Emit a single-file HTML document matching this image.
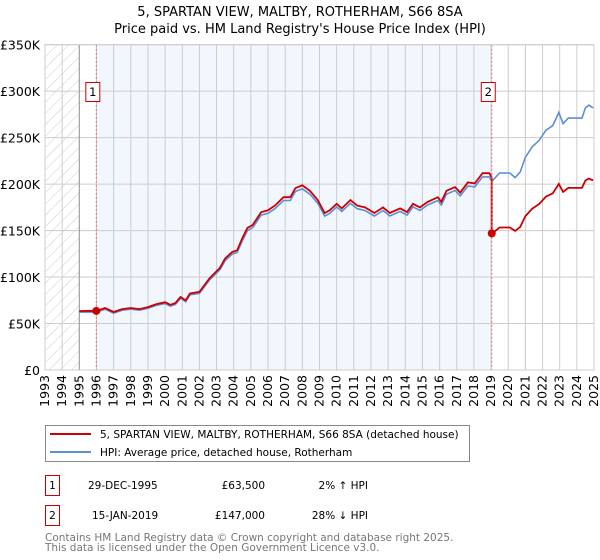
<!DOCTYPE html>
<html><head><meta charset="utf-8"><style>
body{margin:0;background:#fff;font-family:"DejaVu Sans","Liberation Sans",sans-serif;}
#wrap{position:relative;width:600px;height:560px;overflow:hidden;}
svg text{font-family:"DejaVu Sans","Liberation Sans",sans-serif;}
</style></head><body>
<div id="wrap">
<svg id="chart" width="600" height="560">
<defs><pattern id="hatch" patternUnits="userSpaceOnUse" width="8" height="8" patternTransform="rotate(45)"><line x1="0" y1="0" x2="0" y2="8" stroke="#ccc" stroke-width="1"/></pattern></defs>
<text x="300" y="16" text-anchor="middle" font-size="13">5, SPARTAN VIEW, MALTBY, ROTHERHAM, S66 8SA</text>
<text x="300" y="33" text-anchor="middle" font-size="13">Price paid vs. HM Land Registry's House Price Index (HPI)</text>
<g id="plot"></g>
</svg>
<svg width="600" height="560" style="position:absolute;left:0;top:0">
<rect x="45.5" y="425.5" width="424" height="36" fill="#fff" stroke="#888"/>
<line x1="50" y1="434" x2="91" y2="434" stroke="#cc0000" stroke-width="2"/>
<text x="100" y="438" font-size="10.5">5, SPARTAN VIEW, MALTBY, ROTHERHAM, S66 8SA (detached house)</text>
<line x1="50" y1="452" x2="91" y2="452" stroke="#5b8fd4" stroke-width="2"/>
<text x="100" y="456" font-size="10.5">HPI: Average price, detached house, Rotherham</text>
<rect x="45.5" y="475.5" width="14" height="20" fill="#fff" stroke="#cc0000"/>
<text x="52.5" y="489" text-anchor="middle" font-size="10.5">1</text>
<text x="88" y="489" font-size="10.5">29-DEC-1995</text>
<text x="265" y="489" text-anchor="end" font-size="10.5">£63,500</text>
<text x="368" y="489" text-anchor="end" font-size="10.5">2% ↑ HPI</text>
<rect x="45.5" y="505.5" width="14" height="20" fill="#fff" stroke="#cc0000"/>
<text x="52.5" y="519" text-anchor="middle" font-size="10.5">2</text>
<text x="92" y="519" font-size="10.5">15-JAN-2019</text>
<text x="265" y="519" text-anchor="end" font-size="10.5">£147,000</text>
<text x="368" y="519" text-anchor="end" font-size="10.5">28% ↓ HPI</text>
<text x="45" y="541" font-size="10.5" fill="#777">Contains HM Land Registry data © Crown copyright and database right 2025.</text>
<text x="45" y="551" font-size="10.5" fill="#777">This data is licensed under the Open Government Licence v3.0.</text>
</svg>
</div>
<script>
const hpiYears=[1995.0,1995.5,1996.0,1996.5,1997.0,1997.5,1998.0,1998.5,1999.0,1999.5,2000.0,2000.3,2000.6,2000.9,2001.2,2001.45,2002.0,2002.6,2003.2,2003.5,2003.9,2004.2,2004.5,2004.8,2005.1,2005.6,2006.0,2006.4,2006.9,2007.3,2007.6,2008.0,2008.45,2008.9,2009.3,2009.6,2010.0,2010.3,2010.8,2011.2,2011.65,2012.2,2012.7,2013.1,2013.7,2014.1,2014.45,2014.85,2015.3,2015.9,2016.1,2016.4,2016.9,2017.2,2017.65,2018.05,2018.5,2018.9,2019.05,2019.5,2020.1,2020.4,2020.7,2021.0,2021.4,2021.8,2022.2,2022.6,2022.95,2023.2,2023.5,2023.8,2024.3,2024.5,2024.7,2024.95];
const hpiValues=[62.2,62.5,62.3,65.4,61.2,64.3,65.4,64.3,66.4,69.6,71.6,68.8,70.6,77.2,73.5,80.9,82.4,97,108,117.6,124.5,126.5,139,150,153,166.7,168.6,173.5,182.4,182.4,192,195,189,179.4,165.7,168.6,175.5,170.6,179.4,173.5,171.6,165.7,171.6,165.7,170.6,166.7,175.5,171.6,177.5,182.4,177.5,189.2,193.1,187.3,198,197,207.8,207.8,203,212,212,207,213,229,240,247,258,263,277,265,271,271,271,282,285,282];
const saleYears=[1995.99,2019.04];
const salePrices=[63.5,147];
const saleLabels=["1","2"];
const yTicks=[0,50,100,150,200,250,300,350];
const yTickLabels=["£0","£50K","£100K","£150K","£200K","£250K","£300K","£350K"];
const xTicks=[1993,1994,1995,1996,1997,1998,1999,2000,2001,2002,2003,2004,2005,2006,2007,2008,2009,2010,2011,2012,2013,2014,2015,2016,2017,2018,2019,2020,2021,2022,2023,2024,2025];

const L=45,R=594,T=44.7,B=370,X0=1993,X1=2025,Y1=350;
const xs=v=>L+(v-X0)/(X1-X0)*(R-L);
const ys=v=>B-v/Y1*(B-T);
const NS="http://www.w3.org/2000/svg";
const g=document.getElementById('plot');
function mk(t,a){const e=document.createElementNS(NS,t);for(const k in a)e.setAttribute(k,a[k]);g.appendChild(e);return e;}
function hpiAt(y){for(let i=0;i<hpiYears.length-1;i++){if(y<=hpiYears[i+1]){const f=(y-hpiYears[i])/(hpiYears[i+1]-hpiYears[i]);return hpiValues[i]+f*(hpiValues[i+1]-hpiValues[i]);}}return hpiValues[hpiValues.length-1];}

let e;
e=mk('rect',{x:xs(saleYears[0]),y:T,width:xs(saleYears[1])-xs(saleYears[0]),height:B-T,fill:'#f2f6fd'});


e=mk('rect',{x:L,y:T,width:xs(1995)-L,height:B-T,fill:'url(#hatch)'});


xTicks.forEach((t,i)=>{
  const l=mk('line',{x1:xs(t),x2:xs(t),y1:T,y2:B,stroke:'#ccc','stroke-width':1});
  
  
  const x=xs(t)+4;
  const tx=mk('text',{x:x,y:375,'font-size':12.5,'text-anchor':'end',transform:`rotate(-90 ${x} 375)`});
  tx.textContent=t;
  
  
});
yTicks.forEach((t,i)=>{
  const l=mk('line',{x1:L,x2:R,y1:ys(t),y2:ys(t),stroke:'#ccc','stroke-width':1});
  
  
  const tx=mk('text',{x:40,y:ys(t)+5,'font-size':12.5,'text-anchor':'end'});
  tx.textContent=yTickLabels[i];
  
  
});
e=mk('line',{x1:xs(1995),x2:xs(1995),y1:T,y2:B,stroke:'#999','stroke-width':1});



let d=hpiYears.map((y,i)=>(i?'L':'M')+xs(y).toFixed(1)+' '+ys(hpiValues[i]).toFixed(1)).join(' ');
e=mk('path',{d:d,fill:'none',stroke:'#5b8fd4','stroke-width':1.6});



let pts=[];
hpiYears.forEach((y,i)=>{
  let k=0;for(let s=0;s<saleYears.length;s++)if(y>=saleYears[s])k=s;
  const ratio=salePrices[k]/hpiAt(saleYears[k]);
  if(i>0&&hpiYears[i-1]<saleYears[1]&&y>=saleYears[1]){
    const r0=salePrices[0]/hpiAt(saleYears[0]);
    pts.push([saleYears[1],hpiAt(saleYears[1])*r0]);
    pts.push([saleYears[1],salePrices[1]]);
  }
  pts.push([y,hpiValues[i]*ratio]);
});
d=pts.map((p,i)=>(i?'L':'M')+xs(p[0]).toFixed(1)+' '+ys(p[1]).toFixed(1)).join(' ');
e=mk('path',{d:d,fill:'none',stroke:'#cc0000','stroke-width':1.8});



saleYears.forEach((y,i)=>{
  const l=mk('line',{x1:xs(y),x2:xs(y),y1:T,y2:B,stroke:'#e07070','stroke-width':1,'stroke-dasharray':'2,2'});
  
  
  const c=mk('circle',{cx:xs(y),cy:ys(salePrices[i]),r:4,fill:'#cc0000'});
  
  
  const r=mk('rect',{x:xs(y)-10.5,y:82.5,width:14,height:19,fill:'#fff',stroke:'#cc0000'});
  
  
  const t=mk('text',{x:xs(y)-3.5,y:96,'font-size':11.5,'text-anchor':'middle'});
  t.textContent=saleLabels[i];
  
  
});
e=mk('rect',{x:L,y:T,width:R-L,height:B-T,fill:'none',stroke:'#ccc'});


</script>
</body></html>
